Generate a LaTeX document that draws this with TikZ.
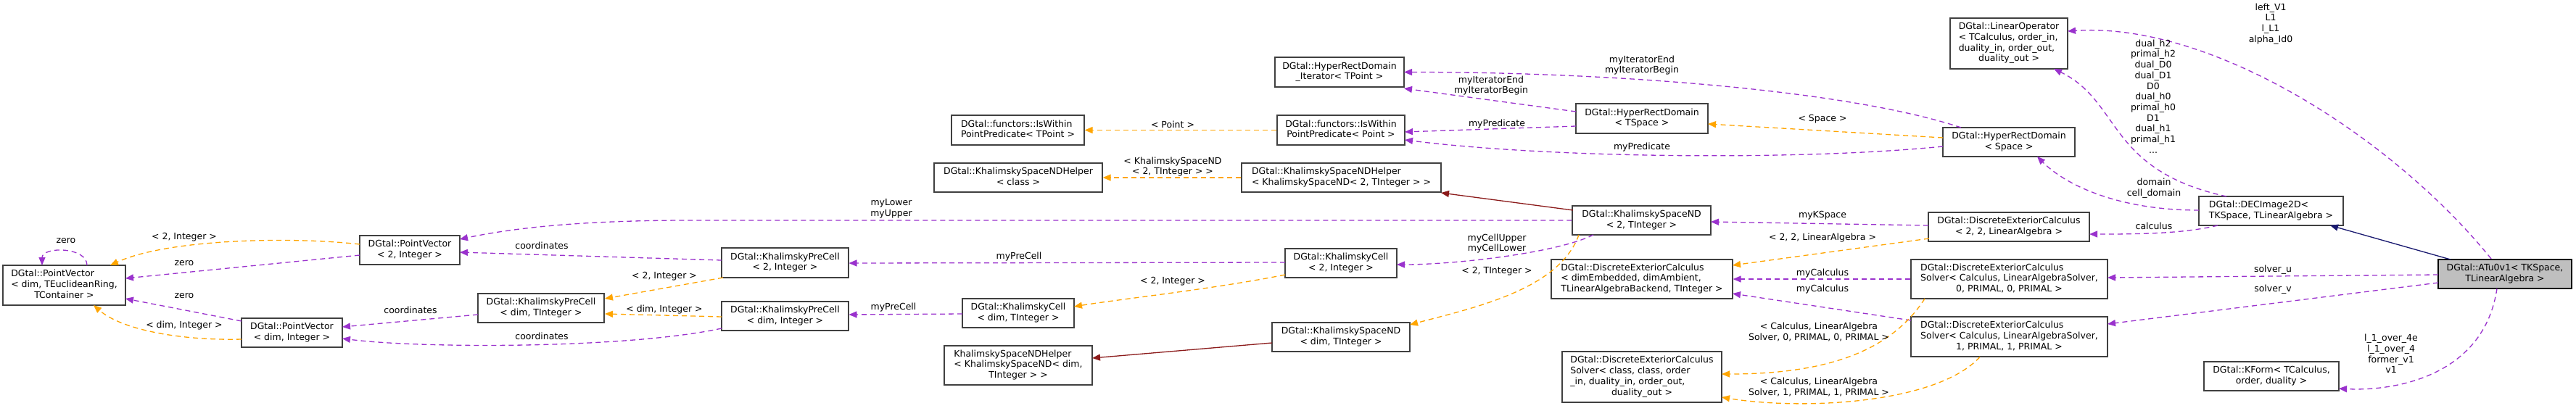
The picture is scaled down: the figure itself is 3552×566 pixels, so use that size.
\documentclass[tikz,border=0pt]{standalone}
\usepackage{fontspec}
\setmainfont{DejaVu Sans}
\usetikzlibrary{arrows.meta,calc}
\definecolor{purp}{HTML}{9A32CD}
\definecolor{orng}{HTML}{FFA500}
\definecolor{fbrick}{HTML}{8B1A1A}
\definecolor{mnblue}{HTML}{191970}
\definecolor{grayfill}{HTML}{BFBFBF}
\definecolor{bord}{HTML}{404040}
\newcommand\bxt[2]{\begin{tabular}{@{}l@{}}#1\\\multicolumn{1}{@{}c@{}}{#2}\end{tabular}}
\begin{document}
\begin{tikzpicture}[x=1pt,y=-1pt,
  box/.style={draw=bord, line width=1.3pt, fill=white, inner sep=0pt, font=\fontsize{12.5}{14.7}\selectfont},
  lbl/.style={inner sep=0pt, align=center, font=\fontsize{12.5}{14.7}\selectfont},
  usedge/.style={draw=purp, line width=1.3pt, dash pattern=on 7pt off 5pt, -{Triangle[length=11pt,width=9pt]}, fill=none},
  inst/.style={draw=orng, line width=1.3pt, dash pattern=on 7pt off 5pt, -{Triangle[length=11pt,width=9pt]}, fill=none},
  inhr/.style={draw=fbrick, line width=1.3pt, -{Triangle[length=11pt,width=9pt]}},
  inhb/.style={draw=mnblue, line width=1.3pt, -{Triangle[length=11pt,width=9pt]}}]
\useasboundingbox (0,0) rectangle (3552,566);
\fill[white] (0,0) rectangle (3552,566);

% ---------- boxes ----------
\node[box, minimum width=169pt, minimum height=55pt] (pvgen) at (88.5,393.5) {\bxt{DGtal::PointVector\\< dim, TEuclideanRing,}{TContainer >}};
\node[box, minimum width=138pt, minimum height=40pt] (pv2) at (565,345) {\bxt{DGtal::PointVector}{< 2, Integer >}};
\node[box, minimum width=139pt, minimum height=40pt] (pvdim) at (402.5,459) {\bxt{DGtal::PointVector}{< dim, Integer >}};
\node[box, minimum width=174pt, minimum height=40pt] (kpcgen) at (746,425) {\bxt{DGtal::KhalimskyPreCell}{< dim, TInteger >}};
\node[box, minimum width=175pt, minimum height=41pt] (kpc2) at (1082.5,362.5) {\bxt{DGtal::KhalimskyPreCell}{< 2, Integer >}};
\node[box, minimum width=175pt, minimum height=40pt] (kpcdim) at (1082.5,436) {\bxt{DGtal::KhalimskyPreCell}{< dim, Integer >}};
\node[box, minimum width=183pt, minimum height=41pt] (iwtp) at (1403.5,179.5) {\bxt{DGtal::functors::IsWithin}{PointPredicate< TPoint >}};
\node[box, minimum width=176pt, minimum height=41pt] (iwp) at (1849,179.5) {\bxt{DGtal::functors::IsWithin}{PointPredicate< Point >}};
\node[box, minimum width=232pt, minimum height=40pt] (hlpcls) at (1404,245) {\bxt{DGtal::KhalimskySpaceNDHelper}{< class >}};
\node[box, minimum width=275pt, minimum height=40pt] (hlp2) at (1849.5,245) {\bxt{DGtal::KhalimskySpaceNDHelper}{< KhalimskySpaceND< 2, TInteger > >}};
\node[box, minimum width=154pt, minimum height=40pt] (kcell2) at (1849,363) {\bxt{DGtal::KhalimskyCell}{< 2, Integer >}};
\node[box, minimum width=154pt, minimum height=40pt] (kcelldim) at (1404,432) {\bxt{DGtal::KhalimskyCell}{< dim, TInteger >}};
\node[box, minimum width=204pt, minimum height=54pt] (hlpdim) at (1404,504) {\bxt{KhalimskySpaceNDHelper\\< KhalimskySpaceND< dim,}{TInteger > >}};
\node[box, minimum width=190pt, minimum height=40pt] (ksnddim) at (1849,465) {\bxt{DGtal::KhalimskySpaceND}{< dim, TInteger >}};
\node[box, minimum width=178pt, minimum height=41pt] (hrdit) at (1847,99.5) {\bxt{DGtal::HyperRectDomain}{\_Iterator< TPoint >}};
\node[box, minimum width=182pt, minimum height=41pt] (hrdts) at (2264,163.5) {\bxt{DGtal::HyperRectDomain}{< TSpace >}};
\node[box, minimum width=191pt, minimum height=40pt] (ksnd2) at (2263.5,304) {\bxt{DGtal::KhalimskySpaceND}{< 2, TInteger >}};
\node[box, minimum width=250pt, minimum height=54pt] (decgen) at (2264,385) {\bxt{DGtal::DiscreteExteriorCalculus\\< dimEmbedded, dimAmbient,}{TLinearAlgebraBackend, TInteger >}};
\node[box, minimum width=220pt, minimum height=70pt] (solvgen) at (2264,520) {\bxt{DGtal::DiscreteExteriorCalculus\\Solver< class, class, order\\\_in, duality\_in, order\_out,}{duality\_out >}};
\node[box, minimum width=162pt, minimum height=70pt] (linop) at (2770,60) {\bxt{DGtal::LinearOperator\\< TCalculus, order\_in,\\duality\_in, order\_out,}{duality\_out >}};
\node[box, minimum width=182pt, minimum height=40pt] (hrds) at (2770,196) {\bxt{DGtal::HyperRectDomain}{< Space >}};
\node[box, minimum width=222pt, minimum height=40pt] (dec2) at (2770,313) {\bxt{DGtal::DiscreteExteriorCalculus}{< 2, 2, LinearAlgebra >}};
\node[box, minimum width=271pt, minimum height=54pt] (solv0) at (2770.5,385) {\bxt{DGtal::DiscreteExteriorCalculus\\Solver< Calculus, LinearAlgebraSolver,}{0, PRIMAL, 0, PRIMAL >}};
\node[box, minimum width=271pt, minimum height=55pt] (solv1) at (2770.5,464.5) {\bxt{DGtal::DiscreteExteriorCalculus\\Solver< Calculus, LinearAlgebraSolver,}{1, PRIMAL, 1, PRIMAL >}};
\node[box, minimum width=199pt, minimum height=40pt] (decimg) at (3131.5,291) {\bxt{DGtal::DECImage2D<}{TKSpace, TLinearAlgebra >}};
\node[box, minimum width=186pt, minimum height=40pt] (kform) at (3132,519) {\bxt{DGtal::KForm< TCalculus,}{order, duality >}};
\node[box, fill=grayfill, draw=black, minimum width=184pt, minimum height=40pt] (atu) at (3454,378) {\bxt{DGtal::ATu0v1< TKSpace,}{TLinearAlgebra >}};

% ---------- connectors ----------
\draw[usedge] ($(pvgen)+(31.5,-27.5)$) .. controls +(0,-26) and +(0,-26) .. ($(pvgen)+(-30.5,-27.5)$);
\draw[inst] ($(pv2)+(-69,-8)$) .. controls +(-96,-11) and +(78,-36) .. ($(pvgen)+(63.5,-27.5)$);
\draw[usedge] ($(pv2)+(-69,7)$) -- ($(pvgen)+(84.5,-9.5)$);
\draw[usedge] ($(pvdim)+(-69.5,-16)$) -- ($(pvgen)+(84.5,18.5)$);
\draw[inst] ($(pvdim)+(-69.5,9)$) .. controls +(-80,2) and +(40,35) .. ($(pvgen)+(40.5,27.5)$);
\draw[usedge] ($(kpc2)+(-87.5,-3.5)$) -- ($(pv2)+(69,3)$);
\draw[usedge] (ksnd2.west) -- ($(ksnd2.west)+(-1218,0)$) .. controls +(-130,0) and +(86,-18) .. ($(pv2)+(69,-15)$);
\draw[usedge] ($(kpcgen)+(-87,9)$) -- ($(pvdim)+(69.5,-8)$);
\draw[usedge] ($(kpcdim)+(-87.5,17)$) .. controls +(-130,28) and +(110,14) .. ($(pvdim)+(69.5,8)$);
\draw[inst] ($(kpc2)+(-85.5,20.5)$) -- ($(kpcgen)+(88,-13)$);
\draw[inst] ($(kpcdim)+(-87.5,1)$) -- ($(kpcgen)+(88,8)$);
\draw[usedge] ($(kcell2)+(-77,-1)$) -- ($(kpc2)+(88,0.5)$);
\draw[usedge] ($(kcelldim)+(-77,1)$) -- ($(kpcdim)+(88,-2)$);
\draw[inst] ($(kcell2)+(-77,16)$) .. controls +(-100,20) and +(60,-10) .. ($(kcelldim)+(77,-9)$);
\draw[inst] (iwp.west) -- (iwtp.east);
\draw[inst] (hlp2.west) -- (hlpcls.east);
\draw[inhr] ($(ksnd2)+(-94.5,-14)$) -- ($(hlp2)+(137.5,21)$);
\draw[inhr] ($(ksnddim)+(-95,8)$) -- ($(hlpdim)+(102,-10)$);
\draw[usedge] ($(ksnd2)+(-66.5,20)$) .. controls +(-50,25) and +(80,0) .. ($(kcell2)+(77,2)$);
\draw[inst] ($(ksnd2)+(-86.5,20)$) .. controls +(-27,76) and +(86,-23) .. ($(ksnddim)+(95,-17)$);
\draw[usedge] ($(hrdts)+(-91,-9.5)$) -- ($(hrdit)+(89,22.5)$);
\draw[usedge] ($(hrds)+(-66,-20)$) .. controls +(-150,-50) and +(300,0) .. ($(hrdit)+(89,0)$);
\draw[usedge] ($(hrdts)+(-91,10.5)$) -- ($(iwp)+(88,2.5)$);
\draw[usedge] ($(hrds)+(-91,6)$) .. controls +(-200,20) and +(200,25) .. ($(iwp)+(88,13.5)$);
\draw[inst] ($(hrds)+(-91,-6)$) -- ($(hrdts)+(91,7.5)$);
\draw[usedge] ($(dec2)+(-111,-2)$) -- ($(ksnd2)+(95.5,2)$);
\draw[inst] ($(dec2)+(-110,16)$) -- ($(decgen)+(125,-19)$);
\draw[usedge] (solv0.west) -- (decgen.east);
\draw[usedge] ($(solv1)+(-135.5,-22.5)$) -- ($(decgen)+(125,20)$);
\draw[inst] ($(solv0)+(-116.5,27)$) .. controls +(-45,70) and +(150,0) .. ($(solvgen)+(110,-4)$);
\draw[inst] ($(solv1)+(-40.5,28)$) .. controls +(-60,65) and +(110,18) .. ($(solvgen)+(110,28)$);
\draw[usedge] ($(decimg)+(-73.5,20)$) .. controls +(-50,12) and +(60,0) .. ($(dec2)+(111,10)$);
\draw[usedge] ($(decimg)+(-99.5,-1)$) .. controls +(-110,0) and +(40,40) .. ($(hrds)+(39,20)$);
\draw[usedge] ($(decimg)+(-61.5,-20)$) .. controls +(-165,-36) and +(93,45) .. ($(linop)+(62,35)$);
\draw[usedge] ($(atu)+(-19,-21)$) .. controls +(-135,-167) and +(199,-13) .. ($(linop)+(81,-17)$);
\draw[usedge] ($(atu)+(-92,1)$) -- ($(solv0)+(135.5,-2)$);
\draw[usedge] ($(atu)+(-92,12)$) -- ($(solv1)+(135.5,-17.5)$);
\draw[usedge] ($(atu)+(-11,20)$) .. controls +(-18,122) and +(75,4) .. ($(kform)+(93,17)$);
\draw[inhb] ($(atu)+(-75,-20)$) -- ($(decimg)+(81.5,20)$);

% ---------- labels ----------
\node[lbl] (l1) at (91,332) {zero};
\node[lbl] (l2) at (254,327) {< 2, Integer >};
\node[lbl] (l3) at (254,363) {zero};
\node[lbl] (l4) at (254,408) {zero};
\node[lbl] (l5) at (254,449) {< dim, Integer >};
\node[lbl] (l6) at (747,339) {coordinates};
\node[lbl] (l7) at (1229,288) {myLower\\myUpper};
\node[lbl] (l8) at (566,428) {coordinates};
\node[lbl] (l9) at (747,464) {coordinates};
\node[lbl] (l10) at (916,381) {< 2, Integer >};
\node[lbl] (l11) at (916,427) {< dim, Integer >};
\node[lbl] (l12) at (1405,354) {myPreCell};
\node[lbl] (l13) at (1232,424) {myPreCell};
\node[lbl] (l14) at (1617,388) {< 2, Integer >};
\node[lbl] (l15) at (1617,172) {< Point >};
\node[lbl] (l16) at (1617,230) {< KhalimskySpaceND\\< 2, TInteger > >};
\node[lbl] (l19) at (2064,336) {myCellUpper\\myCellLower};
\node[lbl] (l20) at (2064,374) {< 2, TInteger >};
\node[lbl] (l21) at (2056,118) {myIteratorEnd\\myIteratorBegin};
\node[lbl] (l22) at (2264,90) {myIteratorEnd\\myIteratorBegin};
\node[lbl] (l23) at (2064,171) {myPredicate};
\node[lbl] (l24) at (2264,203) {myPredicate};
\node[lbl] (l25) at (2513,164) {< Space >};
\node[lbl] (l26) at (2513,297) {myKSpace};
\node[lbl] (l27) at (2513,328) {< 2, 2, LinearAlgebra >};
\node[lbl] (l28) at (2513,377) {myCalculus};
\node[lbl] (l29) at (2513,399) {myCalculus};
\node[lbl] (l30) at (2508,458) {< Calculus, LinearAlgebra\\Solver, 0, PRIMAL, 0, PRIMAL >};
\node[lbl] (l31) at (2508,534) {< Calculus, LinearAlgebra\\Solver, 1, PRIMAL, 1, PRIMAL >};
\node[lbl] (l32) at (2970,312) {calculus};
\node[lbl] (l33) at (2970,260) {domain\\cell\_domain};
\node[lbl] (l34) at (2969,133) {dual\_h2\\primal\_h2\\dual\_D0\\dual\_D1\\D0\\dual\_h0\\primal\_h0\\D1\\dual\_h1\\primal\_h1\\...};
\node[lbl] (l35) at (3131,33) {left\_V1\\L1\\l\_L1\\alpha\_Id0};
\node[lbl] (l36) at (3134,372) {solver\_u};
\node[lbl] (l37) at (3134,399) {solver\_v};
\node[lbl] (l38) at (3297,488) {l\_1\_over\_4e\\l\_1\_over\_4\\former\_v1\\v1};
\end{tikzpicture}
\end{document}
